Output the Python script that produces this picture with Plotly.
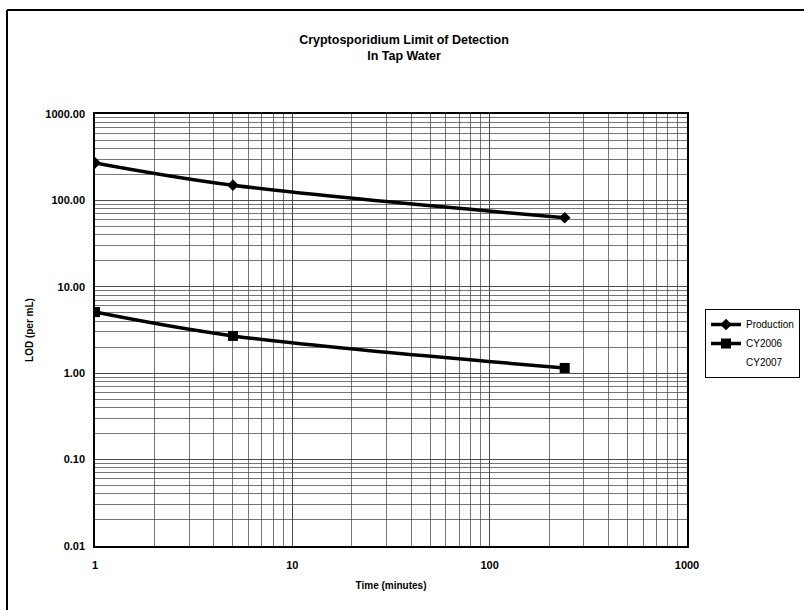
import plotly.graph_objects as go

# Detection limits by sample time
time_min = [1, 5, 240]
production = [272, 150, 63]
cy2006 = [5.1, 2.7, 1.15]

x_ticks = [1, 10, 100, 1000]
y_ticks = [0.01, 0.1, 1, 10, 100, 1000]

FONT = "Liberation Sans, Arial, sans-serif"
GRID = "rgba(60,60,60,0.7)"

fig = go.Figure()

fig.add_trace(go.Scatter(
    x=time_min, y=production, name="Production",
    mode="lines+markers", line=dict(color="black", width=3.5, shape="spline"),
    marker=dict(symbol="diamond", size=9, color="black"),
))
fig.add_trace(go.Scatter(
    x=time_min, y=cy2006, name="CY2006",
    mode="lines+markers", line=dict(color="black", width=3.5, shape="spline"),
    marker=dict(symbol="square", size=10, color="black"),
))
fig.add_trace(go.Scatter(
    x=[None], y=[None], name="CY2007",
    mode="lines", line=dict(color="rgba(0,0,0,0)", width=0),
))

axis_common = dict(
    type="log", showline=True, linecolor="black", linewidth=1.5, mirror=True,
    showgrid=True, gridcolor=GRID, gridwidth=1, zeroline=False, ticks="",
    tickfont=dict(family=FONT, size=11, color="black"),
    minor=dict(showgrid=True, gridcolor=GRID, gridwidth=1, dtick="D1", ticks=""),
)

fig.update_xaxes(
    **axis_common, range=[0, 3], tickvals=x_ticks,
    ticktext=[f"<b>{v}</b>" for v in x_ticks], ticklabelstandoff=8,
    title=dict(text="<b>Time (minutes)</b>", font=dict(family=FONT, size=10, color="black"), standoff=12),
)
fig.update_yaxes(
    **axis_common, range=[-2, 3], tickvals=y_ticks,
    ticktext=[f"<b>{v:.2f}</b>" for v in y_ticks], ticklabelstandoff=6,
    title=dict(text="<b>LOD (per mL)</b>", font=dict(family=FONT, size=10, color="black"), standoff=10),
)

# Outer chart frame (top and left edges)
fig.add_shape(type="line", xref="paper", yref="paper",
              x0=(7 - 95) / 592, x1=(804 - 95) / 592, y0=(546 - 10) / 432, y1=(546 - 10) / 432,
              line=dict(color="black", width=2))
fig.add_shape(type="line", xref="paper", yref="paper",
              x0=(7 - 95) / 592, x1=(7 - 95) / 592, y0=(546 - 10) / 432, y1=(546 - 610) / 432,
              line=dict(color="black", width=2))

fig.update_layout(
    width=804, height=610,
    margin=dict(l=95, r=117, t=114, b=64, autoexpand=False),
    paper_bgcolor="white", plot_bgcolor="white",
    title=dict(
        text="<b>Cryptosporidium Limit of Detection<br>In Tap Water</b>",
        x=404 / 804, xanchor="center", y=1 - 44 / 610, yanchor="top",
        font=dict(family=FONT, size=12.5, color="black"),
    ),
    legend=dict(
        x=(705 - 95) / 592, y=(546 - 309) / 432, xanchor="left", yanchor="top",
        bordercolor="black", borderwidth=1, bgcolor="white",
        font=dict(family=FONT, size=10, color="black"),
        itemwidth=30, tracegroupgap=0,
    ),
)

fig.write_html("out.html")
